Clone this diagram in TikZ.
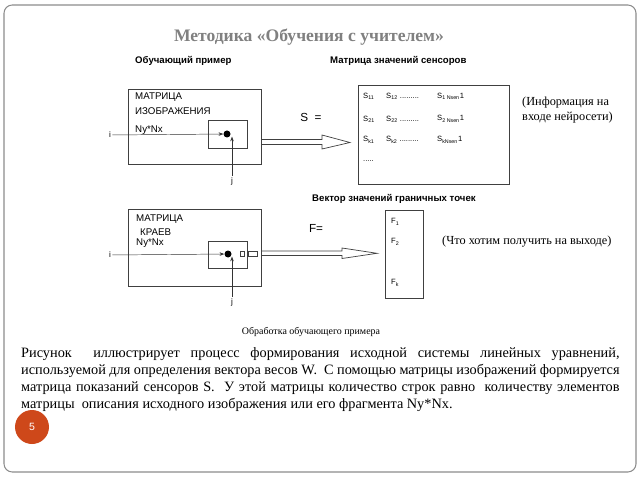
\documentclass[tikz,border=0pt]{standalone}
\usepackage{fontspec}
\setmainfont{Liberation Serif}
\setsansfont{Liberation Sans}
\usepackage{tikz}
\usetikzlibrary{arrows.meta,positioning,calc}
\definecolor{framegray}{RGB}{140,140,140}
\definecolor{titlegray}{RGB}{128,128,128}
\definecolor{numred}{RGB}{206,72,26}

\begin{document}
\begin{tikzpicture}[x=0.03cm,y=-0.03cm,
    box/.style={draw=black!75, line width=0.6pt},
    head/.style={font=\sffamily\bfseries\fontsize{8.2}{9}\selectfont, inner sep=0pt, anchor=west},
    lbl/.style={font=\sffamily\fontsize{8.3}{9}\selectfont, inner sep=0pt, anchor=west},
    ent/.style={font=\sffamily\fontsize{6.5}{7}\selectfont, inner sep=0pt, anchor=west},
    note/.style={font=\fontsize{10.5}{12.5}\selectfont, inner sep=0pt, anchor=west, align=left},
    pt/.style={circle, fill=black, inner sep=0pt, minimum size=0.21cm},
    idx/.style={font=\sffamily\fontsize{7}{8}\selectfont, inner sep=1pt},
    hollow/.style={draw=black!75, fill=white, line width=0.6pt},
    >={Stealth[length=4pt,width=3pt]}]
    \useasboundingbox (0,0) rectangle (640,480);
    \draw[rounded corners=7pt, draw=framegray, line width=0.9pt] (4,5) rectangle (636,472);

    % titles
    \node [font=\bfseries\fontsize{15}{17}\selectfont, text=titlegray] (title) at (309,37) {Методика «Обучения с учителем»};
    \node [head] (hex) at (135,61) {Обучающий пример};
    \node [head] (hsens) at (330,61) {Матрица значений сенсоров};
    \node [head] (hvec) at (312,199) {Вектор значений граничных точек};

    % image matrix
    \draw [box] (128,89) rectangle (261,164);
    \draw [box] (208,120) rectangle (247,148);
    \node [lbl] (m1) at (135,97) {МАТРИЦА};
    \node [lbl] (m2) at (135,111) {ИЗОБРАЖЕНИЯ};
    \node [lbl] (m3) at (135,130) {Ny*Nx};
    \node [pt] (dot1) at (227,134) {};
    \node [idx] (i1) at (110,135) {i};
    \node [idx] (j1) at (232,181) {j};
    \draw [->, black!80] (i1) -- (dot1);
    \draw [->, black!80] (j1.north) -- (j1.north |- dot1.south east);

    % edge matrix
    \draw [box] (128,209) rectangle (261,286);
    \draw [box] (208,241) rectangle (247,268);
    \node [lbl] (k1) at (136,219) {МАТРИЦА};
    \node [lbl] (k2) at (140,232) {КРАЕВ};
    \node [lbl] (k3) at (136,243) {Ny*Nx};
    \node [pt] (dot2) at (228,254) {};
    \node [idx] (i2) at (110,255) {i};
    \node [idx] (j2) at (232,302) {j};
    \draw [->, black!80] (i2) -- (dot2);
    \draw [->, black!80] (j2.north) -- (j2.north |- dot2.south east);
    \draw [box, line width=0.5pt] (240,251) rectangle (244,256);
    \draw [box, line width=0.5pt] (248,251) rectangle (257,256);

    % hollow arrows
    \draw [hollow] (262,139.5) -- (322,139.5) -- (322,135) -- (350,142.5)
        -- (322,149) -- (322,144.5) -- (262,144.5);
    \draw [hollow] (262,251) -- (342,251) -- (342,248) -- (377,253.3)
        -- (342,258.5) -- (342,255.6) -- (262,255.6);

    % sensor matrix
    \node [font=\sffamily\fontsize{10}{11}\selectfont] (seq) at (311,117) {S\ \ =};
    \draw [box] (358,85) rectangle (509,184);
    \node [ent] (s11) at (363,96) {S\textsubscript{11}};
    \node [ent] (s12) at (386,96) {S\textsubscript{12} .........};
    \node [ent] (s1n) at (437,96) {S\textsubscript{1 Nsen}1};
    \node [ent] (s21) at (363,119) {S\textsubscript{21}};
    \node [ent] (s22) at (386,119) {S\textsubscript{22} .........};
    \node [ent] (s2n) at (437,119) {S\textsubscript{2 Nsen}1};
    \node [ent] (sk1) at (363,140) {S\textsubscript{k1}};
    \node [ent] (sk2) at (386,140) {S\textsubscript{k2} .........};
    \node [ent] (skn) at (437,140) {S\textsubscript{kNsen}1};
    \node [ent] (sdots) at (363,161) {.....};
    \node [note] (info) at (522,110) {(Информация на\\входе нейросети)};

    % boundary vector
    \node [font=\sffamily\fontsize{10}{11}\selectfont] (feq) at (316,228) {F=};
    \draw [box] (385,210) rectangle (423,298);
    \node [ent] (f1) at (391,222) {F\textsubscript{1}};
    \node [ent] (f2) at (391,242) {F\textsubscript{2}};
    \node [ent] (fk) at (391,283) {F\textsubscript{k}};
    \node [note] (want) at (442,242) {(Что хотим получить на выходе)};

    % caption and text
    \node [font=\fontsize{8.5}{10}\selectfont] (cap) at (311,332) {Обработка обучающего примера};
    \node [font=\fontsize{12.2}{14.7}\selectfont, inner sep=0pt, anchor=north west,
        text width=17.95cm, align=justify] (txt) at (21,347)
        {Рисунок\ \ иллюстрирует процесс формирования исходной системы линейных уравнений,\linebreak
        используемой для определения вектора весов W.\ \ С помощью матрицы изображений формируется\linebreak
        матрица показаний сенсоров S.\ \ У этой матрицы количество строк равно\ \ количеству элементов\linebreak
        матрицы\ \ описания исходного изображения или его фрагмента Ny*Nx.};

    % page number
    \node [circle, fill=numred, minimum size=1.02cm, inner sep=0pt, text=white,
        font=\sffamily\fontsize{9}{10}\selectfont] (num) at (32,427) {5};
\end{tikzpicture}
\end{document}
